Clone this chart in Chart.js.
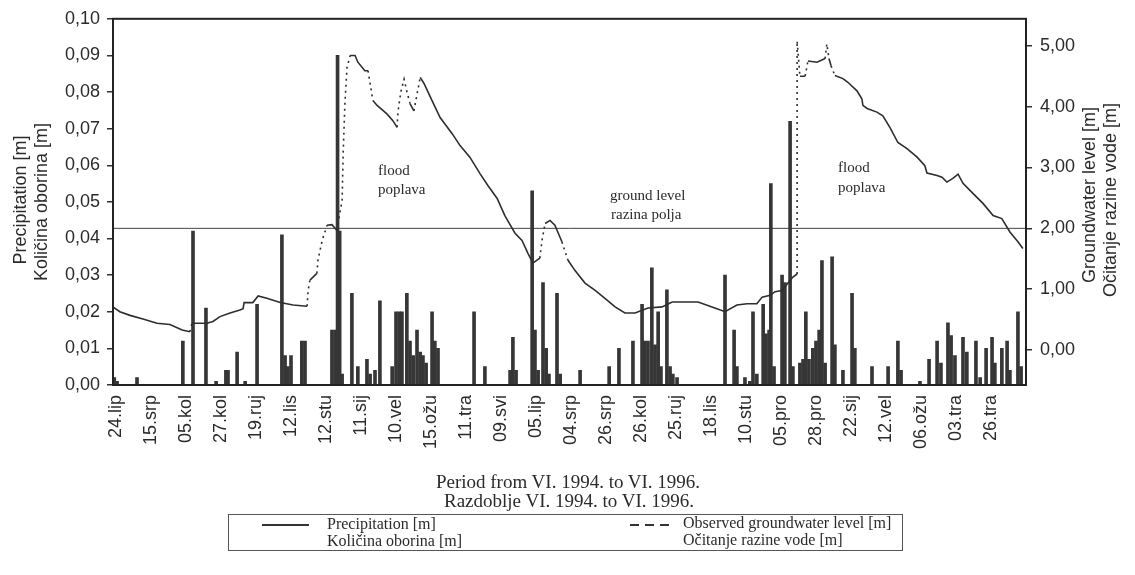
<!DOCTYPE html>
<html><head><meta charset="utf-8">
<script src="https://cdn.jsdelivr.net/npm/chart.js@4.4.1/dist/chart.umd.min.js"></script>
<style>
html,body{margin:0;padding:0;background:#fff;}
#wrap{position:relative;width:1135px;height:575px;overflow:hidden;background:#fff;}
canvas{position:absolute;left:0;top:0;}
.t{position:absolute;white-space:nowrap;color:#2b2b2b;line-height:1;}
.sans{font-family:"Liberation Sans",Arial,sans-serif;}
.serif{font-family:"Liberation Serif","Times New Roman",serif;}
.rot{transform:translate(-50%,-50%) rotate(-90deg);}
.ctr{transform:translate(-50%,-50%);}
.lft{transform:translate(0,-50%);}
#legend{position:absolute;left:228px;top:514px;width:673px;height:35px;border:1px solid #555;}
.sw{position:absolute;background:#333;height:2px;}
</style></head>
<body><div id="wrap"><canvas id="c" width="1135" height="575"></canvas>
<div class="t sans rot" style="left:20px;top:200px;font-size:18px;">Precipitation [m]</div>
<div class="t sans rot" style="left:41px;top:202px;font-size:18px;">Količina oborina [m]</div>
<div class="t sans rot" style="left:1089px;top:195px;font-size:18px;">Groundwater level [m]</div>
<div class="t sans rot" style="left:1110px;top:200px;font-size:18px;">Očitanje razine vode [m]</div>
<div class="t serif ctr" style="left:568px;top:481px;font-size:19px;">Period from VI. 1994. to VI. 1996.</div>
<div class="t serif ctr" style="left:569px;top:500px;font-size:19px;">Razdoblje VI. 1994. to VI. 1996.</div>
<div class="t serif lft" style="left:378px;top:170px;font-size:15px;">flood</div>
<div class="t serif lft" style="left:378px;top:189px;font-size:15px;">poplava</div>
<div class="t serif lft" style="left:610px;top:195px;font-size:15px;">ground level</div>
<div class="t serif lft" style="left:611px;top:214px;font-size:15px;">razina polja</div>
<div class="t serif lft" style="left:838px;top:167px;font-size:15px;">flood</div>
<div class="t serif lft" style="left:838px;top:187px;font-size:15px;">poplava</div>
<div id="legend"></div>
<div class="sw" style="left:262px;top:524px;width:47px;"></div>
<div class="t serif lft" style="left:327px;top:524px;font-size:16px;">Precipitation [m]</div>
<div class="t serif lft" style="left:327px;top:541px;font-size:16px;">Količina oborina [m]</div>
<div class="sw" style="left:630px;top:524px;width:9px;"></div>
<div class="sw" style="left:645px;top:524px;width:9px;"></div>
<div class="sw" style="left:660px;top:524px;width:9px;"></div>
<div class="t serif lft" style="left:683px;top:523px;font-size:16px;">Observed groundwater level [m]</div>
<div class="t serif lft" style="left:683px;top:540px;font-size:16px;">Očitanje razine vode [m]</div>
</div>
<script>
// x positions are in "label units": tick label i sits at x = 10*i
const tickPositions = [0,10,20,30,40,50,60,70,80,90,100,110,120,130,140,150,160,170,180,190,200,210,220,230,240,250];
const tickLabels = ['24.lip','15.srp','05.kol','27.kol','19.ruj','12.lis','12.stu','11.sij','10.vel','15.ožu','11.tra','09.svi','05.lip','04.srp','26.srp','26.kol','25.ruj','18.lis','10.stu','05.pro','28.pro','22.sij','12.vel','06.ožu','03.tra','26.tra'];
const leftTicks = [0,0.01,0.02,0.03,0.04,0.05,0.06,0.07,0.08,0.09,0.10];
const rightTicks = [0,1,2,3,4,5];

const precipX = [-0.5,0.3,6.0,19.1,22.0,25.7,28.6,31.4,32.0,34.6,36.9,40.3,47.4,48.3,49.1,50.0,53.1,54.0,61.7,62.6,63.3,63.9,64.6,67.4,69.1,71.7,72.6,74.0,75.4,78.9,80.0,80.9,81.7,83.1,84.0,84.9,86.0,86.9,87.7,88.6,90.3,91.1,92.0,102.3,105.4,112.6,113.4,114.3,118.9,119.7,120.6,122.0,122.9,123.7,126.0,126.9,132.6,140.9,143.7,147.7,150.3,151.1,152.0,153.1,154.0,154.9,155.7,157.4,158.3,159.1,160.3,174.0,176.6,177.4,179.7,181.1,182.0,183.1,184.9,185.7,186.6,187.1,188.0,190.3,191.1,192.6,193.4,195.4,196.3,197.1,198.0,199.1,200.0,200.9,201.7,202.6,204.6,205.4,207.7,210.3,211.1,216.0,220.6,223.4,224.3,229.7,232.3,234.6,235.7,237.7,238.6,239.7,242.0,243.1,245.7,246.9,248.6,250.3,251.1,253.1,254.6,255.4,257.7,258.6];
const precipY = [0.002,0.001,0.002,0.012,0.042,0.021,0.001,0.004,0.004,0.009,0.001,0.022,0.041,0.008,0.005,0.008,0.012,0.012,0.015,0.015,0.090,0.042,0.003,0.025,0.005,0.007,0.003,0.004,0.023,0.005,0.020,0.020,0.020,0.025,0.012,0.008,0.015,0.009,0.008,0.006,0.020,0.012,0.010,0.020,0.005,0.004,0.013,0.004,0.053,0.015,0.004,0.028,0.010,0.003,0.025,0.003,0.004,0.005,0.010,0.012,0.022,0.012,0.012,0.032,0.011,0.020,0.005,0.026,0.005,0.003,0.002,0.030,0.015,0.005,0.002,0.001,0.020,0.003,0.022,0.014,0.015,0.055,0.005,0.030,0.028,0.072,0.005,0.006,0.007,0.020,0.007,0.010,0.012,0.015,0.034,0.006,0.035,0.011,0.004,0.025,0.010,0.005,0.005,0.012,0.004,0.001,0.007,0.012,0.006,0.017,0.0135,0.008,0.013,0.009,0.012,0.002,0.010,0.013,0.006,0.010,0.012,0.004,0.020,0.005];

const gwX = [-0.9,1.1,4.0,7.7,11.7,15.4,18.9,21.1,21.7,26.0,27.7,29.7,32.6,35.4,36.3,36.6,39.1,40.6,43.1,46.9,50.6,54.6,54.9,55.4,57.4,57.7,58.9,60.3,61.7,63.1,64.6,64.9,65.4,66.0,66.9,68.3,69.1,71.1,72.0,72.6,73.4,74.6,77.4,79.1,80.3,80.6,81.4,82.3,83.1,84.0,85.1,86.0,86.9,88.0,90.3,92.6,96.0,98.3,101.1,104.0,106.3,108.9,111.1,114.0,116.0,117.7,119.1,121.1,121.7,122.6,124.0,125.4,127.4,129.1,131.1,134.0,136.9,139.7,142.6,145.4,148.3,152.0,156.0,158.9,166.3,171.1,174.0,177.4,180.3,183.1,184.6,186.9,188.3,190.3,192.0,193.4,194.6,194.6,195.4,196.9,197.7,200.3,202.6,203.1,203.7,204.3,205.4,207.7,209.1,211.7,213.1,213.4,214.6,217.4,219.1,221.1,223.4,226.0,228.9,231.1,231.7,234.6,236.0,237.4,239.1,240.6,242.0,244.9,247.7,250.6,253.1,255.4,257.7,259.1];
const gwY = [0.71,0.63,0.57,0.51,0.44,0.42,0.33,0.30,0.44,0.44,0.47,0.55,0.61,0.66,0.68,0.78,0.78,0.89,0.85,0.78,0.74,0.72,0.98,1.15,1.26,1.48,1.80,2.05,2.06,1.97,2.46,3.23,4.05,4.64,4.84,4.84,4.73,4.59,4.59,4.38,4.10,4.02,3.88,3.77,3.66,3.93,4.25,4.45,4.25,4.05,3.93,4.20,4.48,4.38,4.10,3.82,3.56,3.36,3.17,2.90,2.70,2.49,2.21,1.92,1.80,1.59,1.43,1.51,1.80,2.08,2.13,2.05,1.78,1.48,1.31,1.10,0.98,0.85,0.71,0.61,0.61,0.69,0.71,0.79,0.79,0.69,0.63,0.74,0.76,0.76,0.87,0.90,0.96,0.98,1.10,1.20,1.25,5.08,4.50,4.50,4.75,4.73,4.79,5.03,4.79,4.67,4.51,4.46,4.40,4.26,4.13,4.02,3.97,3.91,3.85,3.66,3.41,3.31,3.17,3.03,2.91,2.87,2.84,2.76,2.82,2.89,2.74,2.57,2.41,2.21,2.16,1.94,1.78,1.67];

const groundLevel = 2.0;
const xMin = -0.86, xMax = 260;

const INK = '#2b2b2b';
const SANS = '"Liberation Sans", Arial, sans-serif';

const framePlugin = {
  id: 'frame',
  afterDraw(chart) {
    const {ctx, chartArea: a} = chart;
    ctx.save();
    ctx.strokeStyle = '#222';
    ctx.lineWidth = 2;
    ctx.strokeRect(a.left, a.top, a.right - a.left, a.bottom - a.top);
    ctx.restore();
  }
};

new Chart(document.getElementById('c'), {
  type: 'bar',
  data: {
    datasets: [
      {
        type: 'bar',
        label: 'Precipitation [m]',
        data: precipX.map((x, i) => ({x: x, y: precipY[i]})),
        yAxisID: 'y',
        backgroundColor: '#363636',
        borderWidth: 0,
        barThickness: 3,
        order: 2
      },
      {
        type: 'line',
        label: 'Observed groundwater level [m]',
        data: gwX.map((x, i) => ({x: x, y: gwY[i]})),
        yAxisID: 'y2',
        borderColor: '#2e2e2e',
        borderWidth: 1.6,
        pointRadius: 0,
        tension: 0,
        fill: false,
        order: 1,
        segment: {
          borderDash: c => {
            const dy = Math.abs(c.p1.y - c.p0.y), dx = Math.abs(c.p1.x - c.p0.x);
            return (dy > 2.5 * dx && dy > 8) ? [2, 4] : undefined;
          }
        }
      },
      {
        type: 'line',
        label: 'ground level',
        data: [{x: xMin, y: groundLevel}, {x: xMax, y: groundLevel}],
        yAxisID: 'y2',
        borderColor: '#444',
        borderWidth: 1,
        pointRadius: 0,
        order: 3
      }
    ]
  },
  options: {
    responsive: false,
    devicePixelRatio: 1,
    animation: false,
    events: [],
    layout: {padding: {top: 18, left: 0, right: 0, bottom: 0}},
    plugins: {legend: {display: false}, tooltip: {enabled: false}},
    scales: {
      x: {
        type: 'linear',
        min: xMin, max: xMax,
        offset: false,
        afterBuildTicks: s => { s.ticks = tickPositions.map(v => ({value: v})); },
        afterFit: s => { s.height = 190; },
        ticks: {
          autoSkip: false, maxRotation: 90, minRotation: 90, padding: 10,
          color: INK, font: {family: SANS, size: 18},
          callback: (v, i) => tickLabels[i]
        },
        grid: {display: false, drawTicks: false},
        border: {display: true, color: '#222', width: 2}
      },
      y: {
        position: 'left',
        min: 0, max: 0.1,
        afterBuildTicks: s => { s.ticks = leftTicks.map(v => ({value: v})); },
        afterFit: s => { s.width = 113; },
        ticks: {
          padding: 7, color: INK, font: {family: SANS, size: 18},
          callback: v => v.toFixed(2).replace('.', ',')
        },
        grid: {drawOnChartArea: false, drawTicks: true, tickLength: 6, color: '#333', lineWidth: 1.5},
        border: {display: true, color: '#222', width: 2}
      },
      y2: {
        position: 'right',
        min: -0.574, max: 5.443,
        afterBuildTicks: s => { s.ticks = rightTicks.map(v => ({value: v})); },
        afterFit: s => { s.width = 109; },
        ticks: {
          padding: 8, color: INK, font: {family: SANS, size: 18},
          callback: v => v.toFixed(2).replace('.', ',')
        },
        grid: {drawOnChartArea: false, drawTicks: true, tickLength: 6, color: '#333', lineWidth: 1.5},
        border: {display: true, color: '#222', width: 2}
      }
    }
  },
  plugins: [framePlugin]
});
</script>
</body></html>
